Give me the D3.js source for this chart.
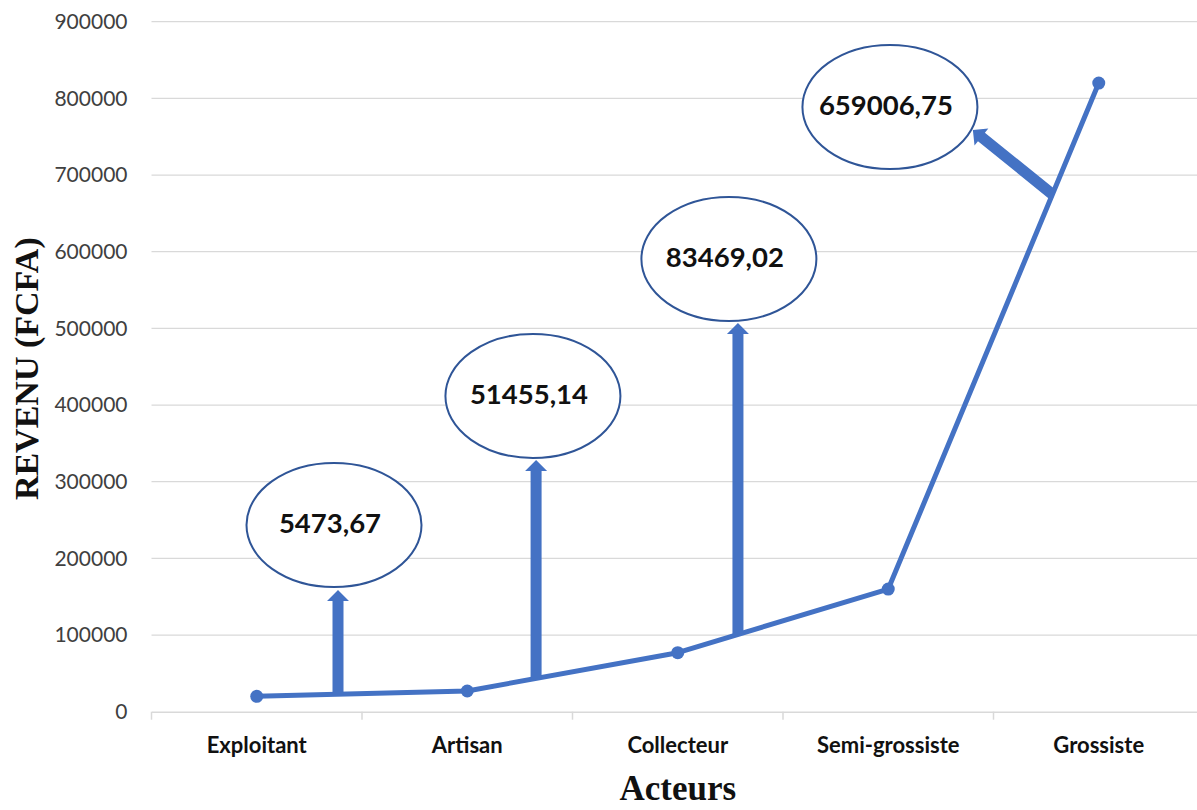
<!DOCTYPE html>
<html>
<head>
<meta charset="utf-8">
<script src="https://cdn.jsdelivr.net/npm/d3@7"></script>
<style>
  html, body { margin: 0; padding: 0; background: #ffffff; }
  svg { display: block; }
</style>
</head>
<body>
<svg id="chart" width="1197" height="810"></svg>
<script>
// ---------- data ----------
const categories = ["Exploitant", "Artisan", "Collecteur", "Semi-grossiste", "Grossiste"];
const revenus = [20000, 27000, 77000, 160000, 820000];
const yTicks = [0, 100000, 200000, 300000, 400000, 500000, 600000, 700000, 800000, 900000];

// annotations (positions in category-index units / revenue units)
const annotLabels = ["5473,67", "51455,14", "83469,02", "659006,75"];
const arrowFromX = [0.386, 1.327, 2.286, 3.78];
const arrowTipX = [0.386, 1.327, 2.286, 3.402];
const arrowTipY = [158700, 328300, 507000, 758600];
const ellipseX = [0.367, 1.312, 2.243, 3.008];
const ellipseY = [243500, 411800, 590500, 788700];

const xTitle = "Acteurs";
const yTitle = "REVENU (FCFA)";

// ---------- layout ----------
const svg = d3.select("#chart");
const pLeft = 151.5, pRight = 1204, pTop = 21.7, pBottom = 711.7;
const blue = "#4472C4";
const ellipseStroke = "#2F5597";
const grid = "#d9d9d9";

const band = d3.scaleBand().domain(categories).range([pLeft, pRight]).paddingInner(0).paddingOuter(0);
const xi = d3.scaleLinear().domain([-0.5, categories.length - 0.5]).range([pLeft, pRight]);
const y = d3.scaleLinear().domain([0, 900000]).range([pBottom, pTop]);

// gridlines
svg.append("g").selectAll("line").data(yTicks.filter(d => d > 0)).join("line")
  .attr("x1", pLeft).attr("x2", 1197)
  .attr("y1", d => y(d)).attr("y2", d => y(d))
  .attr("stroke", grid).attr("stroke-width", 1.3);

// y axis labels
const yAxis = svg.append("g").attr("transform", `translate(${pLeft},0)`)
  .call(d3.axisLeft(y).tickValues(yTicks).tickSize(0).tickPadding(24).tickFormat(d3.format("d")));
yAxis.select(".domain").remove();
yAxis.selectAll("text")
  .attr("font-family", "Lato, 'Open Sans', sans-serif")
  .attr("font-size", 21).attr("fill", "#404040");

// x axis
const xAxis = svg.append("g").attr("transform", `translate(0,${pBottom})`)
  .call(d3.axisBottom(band).tickSize(0).tickPadding(26));
xAxis.select(".domain").attr("stroke", grid).attr("stroke-width", 1.5);
xAxis.selectAll("text")
  .attr("font-family", "Lato, 'Open Sans', sans-serif")
  .attr("font-weight", "bold")
  .attr("font-size", 22).attr("fill", "#111");
// category separator ticks
const edges = categories.map(c => band(c)).concat([pRight]);
xAxis.append("g").selectAll("line").data(edges).join("line")
  .attr("x1", d => d).attr("x2", d => d)
  .attr("y1", 0).attr("y2", 8)
  .attr("stroke", grid).attr("stroke-width", 1.5);

// axis titles
svg.append("text")
  .attr("x", xi(2)).attr("y", 800)
  .attr("text-anchor", "middle")
  .attr("font-family", "'Liberation Serif', 'Times New Roman', serif")
  .attr("font-weight", "bold").attr("font-size", 35).attr("fill", "#111")
  .text(xTitle);
svg.append("text")
  .attr("transform", `translate(38,${(pTop + pBottom) / 2 + 2}) rotate(-90)`)
  .attr("text-anchor", "middle")
  .attr("font-family", "'Liberation Serif', 'Times New Roman', serif")
  .attr("font-weight", "bold").attr("font-size", 34).attr("fill", "#111")
  .text(yTitle);

// line
const pts = revenus.map((v, i) => [xi(i), y(v)]);
svg.append("path")
  .attr("d", d3.line()(pts))
  .attr("fill", "none").attr("stroke", blue).attr("stroke-width", 5)
  .attr("stroke-linejoin", "round");

function lineValueAt(t) {
  const i = Math.min(Math.floor(t), revenus.length - 2);
  const f = t - i;
  return revenus[i] + (revenus[i + 1] - revenus[i]) * f;
}

// arrows
const arrowG = svg.append("g");
annotLabels.forEach((lab, k) => {
  const x0 = xi(arrowFromX[k]), y0 = y(lineValueAt(arrowFromX[k]));
  const x1 = xi(arrowTipX[k]), y1 = y(arrowTipY[k]);
  const dx = x1 - x0, dy = y1 - y0, len = Math.hypot(dx, dy);
  const ux = dx / len, uy = dy / len, nx = -uy, ny = ux;
  const sw = 5.5, hw = 11, hl = 11;
  const bx = x1 - ux * hl, by = y1 - uy * hl;
  const poly = [
    [x0 + nx * sw, y0 + ny * sw],
    [bx + nx * sw, by + ny * sw],
    [bx + nx * hw, by + ny * hw],
    [x1, y1],
    [bx - nx * hw, by - ny * hw],
    [bx - nx * sw, by - ny * sw],
    [x0 - nx * sw, y0 - ny * sw]
  ];
  arrowG.append("path")
    .attr("d", "M" + poly.map(p => p.join(",")).join("L") + "Z")
    .attr("fill", blue);
});

// markers
svg.append("g").selectAll("circle").data(revenus).join("circle")
  .attr("cx", (d, i) => xi(i)).attr("cy", d => y(d))
  .attr("r", 6.5).attr("fill", blue);

// ellipses + labels
const ann = svg.append("g");
annotLabels.forEach((lab, k) => {
  const cx = xi(ellipseX[k]), cy = y(ellipseY[k]);
  ann.append("ellipse")
    .attr("cx", cx).attr("cy", cy).attr("rx", 87.5).attr("ry", 62)
    .attr("fill", "#fff").attr("stroke", ellipseStroke).attr("stroke-width", 2);
  ann.append("text")
    .attr("x", cx - 4).attr("y", cy - 2)
    .attr("dy", "0.36em")
    .attr("text-anchor", "middle")
    .attr("font-family", "Lato, 'Open Sans', sans-serif")
    .attr("font-weight", "bold").attr("font-size", 27.5).attr("fill", "#111")
    .text(lab);
});
</script>
</body>
</html>
